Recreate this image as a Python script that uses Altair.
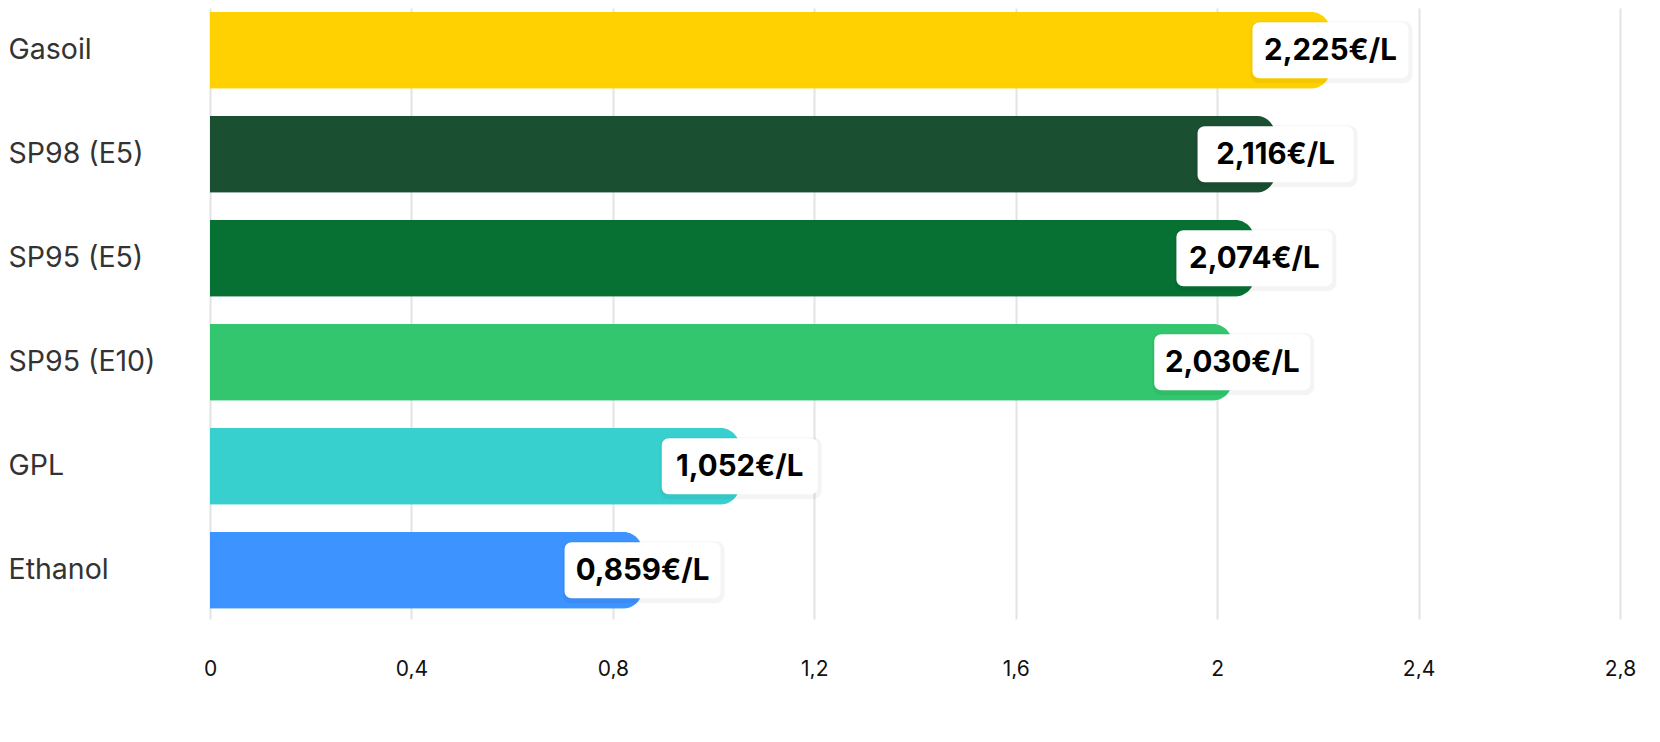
import altair as alt
import pandas as pd

fuels = ["Gasoil", "SP98 (E5)", "SP95 (E5)", "SP95 (E10)", "GPL", "Ethanol"]
prices = [2.225, 2.116, 2.074, 2.030, 1.052, 0.859]
colors = ["#FFD100", "#1A4F32", "#077033", "#33C66E", "#38CFCF", "#3D93FF"]
x_ticks = [0, 0.4, 0.8, 1.2, 1.6, 2.0, 2.4, 2.8]

labels = [f"{p:.3f}".replace(".", ",") + "€/L" for p in prices]
df = pd.DataFrame({"fuel": fuels, "price": prices, "label": labels})

FONT = "Inter"

y_enc = alt.Y(
    "fuel:N",
    sort=fuels,
    title=None,
    scale=alt.Scale(paddingInner=0.26, paddingOuter=0.0675, align=0.27),
    axis=alt.Axis(
        labelAlign="left",
        labelPadding=202,
        minExtent=202,
        maxExtent=202,
        labelFontSize=28.5,
        labelColor="#333333",
        labelFont=FONT,
        labelLimit=400,
        ticks=False,
        domain=False,
        grid=False,
    ),
)

x_enc = alt.X(
    "price:Q",
    title=None,
    scale=alt.Scale(domain=[0, 2.8], nice=False),
    axis=alt.Axis(
        values=x_ticks,
        labelExpr="replace(format(datum.value, '.1~f'), '.', ',')",
        labelFontSize=21,
        labelColor="#111111",
        labelFont=FONT,
        labelPadding=39,
        labelFlush=False,
        ticks=False,
        domain=False,
        grid=True,
        gridColor="#E3E3E3",
        gridWidth=2,
    ),
)

bars = alt.Chart(df).mark_bar(cornerRadiusEnd=20).encode(
    x=x_enc,
    y=y_enc,
    color=alt.Color("fuel:N", scale=alt.Scale(domain=fuels, range=colors), legend=None),
)

shadow = alt.Chart(df).mark_bar(
    height=62, xOffset=-80, x2Offset=82, yOffset=2, cornerRadius=9,
    color="#000000", opacity=0.045,
).encode(x="price:Q", x2="price:Q", y=alt.Y("fuel:N", sort=fuels))

box = alt.Chart(df).mark_bar(
    height=56, xOffset=-78, x2Offset=78, cornerRadius=7, color="#FFFFFF",
).encode(x="price:Q", x2="price:Q", y=alt.Y("fuel:N", sort=fuels))

text = alt.Chart(df).mark_text(
    font=FONT, fontSize=29.5, fontWeight="bold", color="#000000",
    align="center", baseline="middle", dy=1,
).encode(x="price:Q", y=alt.Y("fuel:N", sort=fuels), text="label:N")

chart = (
    alt.layer(bars, shadow, box, text)
    .properties(width=1410, height=611, padding=0)
    .configure(font=FONT)
    .configure_view(stroke=None)
)

chart.save("out.html", embed_options={"renderer": "svg", "actions": False})
